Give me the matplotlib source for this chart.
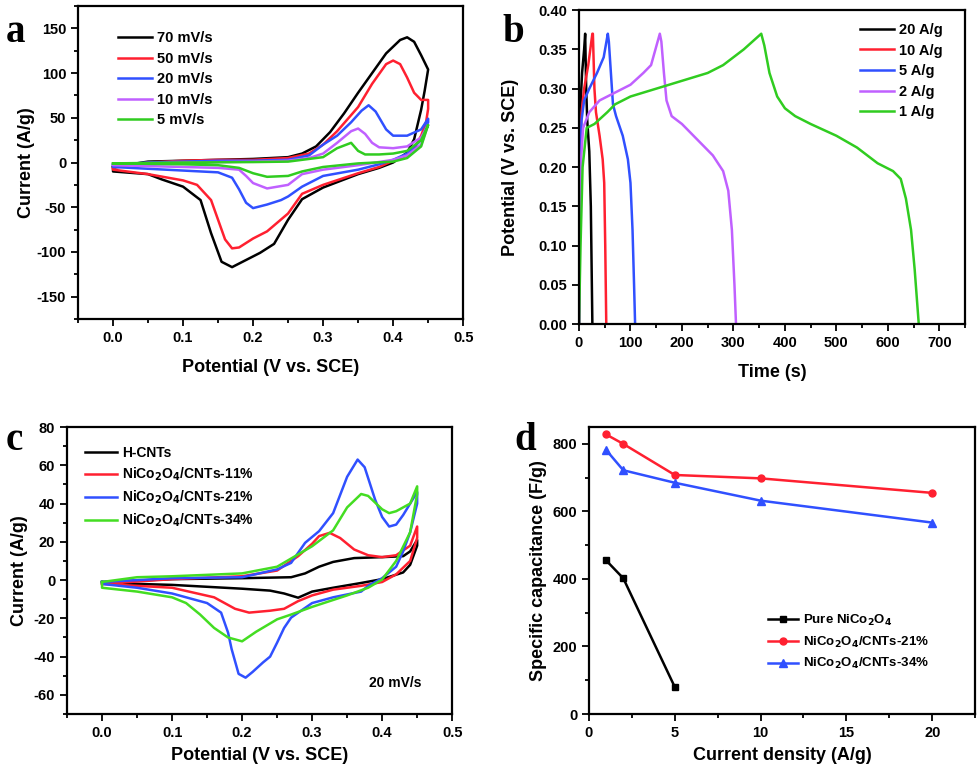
"""
    Figure : CV, GCD et capacité spécifique NiCo2O4 / CNTs
"""

import matplotlib
matplotlib.use("Agg")
import matplotlib.pyplot as plt
from matplotlib.ticker import MultipleLocator

plt.rcParams['font.family'] = ['Liberation Sans', 'DejaVu Sans']
plt.rcParams['font.weight'] = 'bold'
plt.rcParams['mathtext.default'] = 'bf'
plt.rcParams['axes.unicode_minus'] = False

# ---------------- (a) CV à différentes vitesses de balayage ----------------
cv_rates = ["70 mV/s", "50 mV/s", "20 mV/s", "10 mV/s", "5 mV/s"]
cv70_x = [0, 0.05, 0.1, 0.15, 0.2, 0.25, 0.27, 0.29, 0.31, 0.33, 0.35, 0.37, 0.39, 0.41, 0.42, 0.43, 0.44, 0.45,
          0.445, 0.44, 0.43, 0.42, 0.40, 0.38, 0.35, 0.30, 0.27, 0.25, 0.23, 0.21, 0.19, 0.17, 0.155, 0.14, 0.125,
          0.10, 0.07, 0.05, 0.0, 0]
cv70_y = [-5, 1, 2, 3, 4, 6, 10, 18, 34, 55, 78, 100, 122, 137, 140, 135, 120, 104,
          80, 59, 26, 11, 0, -6, -13, -28, -41, -64, -91, -101, -109, -117, -111, -79, -42,
          -27, -19, -13, -10, -5]
cv50_x = [0, 0.05, 0.1, 0.15, 0.2, 0.25, 0.28, 0.30, 0.32, 0.35, 0.37, 0.39, 0.40, 0.41, 0.42, 0.43, 0.44, 0.45,
          0.45, 0.447, 0.44, 0.43, 0.42, 0.40, 0.38, 0.35, 0.30, 0.27, 0.25, 0.22, 0.20, 0.18, 0.17, 0.16, 0.15,
          0.14, 0.12, 0.10, 0.05, 0.0, 0]
cv50_y = [-6, 0, 2, 3, 3, 5, 10, 20, 35, 62, 88, 110, 114, 110, 95, 78, 70, 70,
          60, 45, 30, 15, 8, 2, -5, -12, -25, -35, -57, -77, -85, -95, -96, -86, -64,
          -42, -25, -20, -13, -8, -6]
cv20_x = [0, 0.05, 0.1, 0.15, 0.2, 0.25, 0.28, 0.30, 0.32, 0.34, 0.355, 0.365, 0.375, 0.39, 0.40, 0.42, 0.44, 0.45,
          0.45, 0.44, 0.42, 0.40, 0.38, 0.35, 0.30, 0.27, 0.25, 0.24, 0.22, 0.20, 0.19, 0.18, 0.17, 0.15, 0.10,
          0.05, 0.0, 0]
cv20_y = [-3, 0, 1, 2, 2, 3, 8, 20, 30, 45, 58, 64, 57, 37, 30, 30, 37, 49,
          45, 25, 10, 3, -2, -8, -15, -27, -38, -42, -47, -51, -45, -30, -17, -11, -9,
          -7, -5, -3]
cv10_x = [0, 0.1, 0.2, 0.25, 0.28, 0.30, 0.32, 0.34, 0.35, 0.36, 0.37, 0.38, 0.40, 0.42, 0.44, 0.45,
          0.44, 0.42, 0.40, 0.35, 0.30, 0.27, 0.25, 0.22, 0.20, 0.19, 0.18, 0.15, 0.10, 0.0, 0]
cv10_y = [-2, 0, 1, 2, 5, 10, 22, 35, 38, 32, 22, 17, 16, 18, 28, 42,
          20, 8, 3, -3, -8, -13, -25, -29, -23, -15, -8, -6, -5, -3, -2]
cv5_x = [0, 0.1, 0.2, 0.25, 0.30, 0.32, 0.34, 0.35, 0.36, 0.38, 0.40, 0.42, 0.44, 0.45,
         0.44, 0.42, 0.40, 0.35, 0.30, 0.27, 0.25, 0.22, 0.20, 0.18, 0.15, 0.10, 0.0, 0]
cv5_y = [-1, 0, 0.5, 1, 6, 16, 22, 13, 9, 9, 10, 13, 25, 42,
         18, 5, 1, -1, -5, -10, -15, -16, -12, -6, -3, -2, -1, -1]

# ---------------- (b) charge / décharge galvanostatique ----------------
gcd_labels = ["20 A/g", "10 A/g", "5 A/g", "2 A/g", "1 A/g"]
gcd20_t = [0, 1, 3, 6, 10, 12, 14, 16, 20, 23, 25, 26]
gcd20_v = [0, 0.20, 0.28, 0.32, 0.35, 0.37, 0.30, 0.26, 0.22, 0.15, 0.05, 0]
gcd10_t = [0, 2, 5, 10, 18, 26, 27, 30, 33, 40, 46, 49, 51, 53]
gcd10_v = [0, 0.22, 0.27, 0.30, 0.33, 0.37, 0.37, 0.30, 0.27, 0.24, 0.21, 0.18, 0.10, 0]
gcd5_t = [0, 2, 5, 10, 20, 35, 48, 56, 58, 62, 66, 72, 85, 95, 100, 104, 107, 109]
gcd5_v = [0, 0.20, 0.26, 0.285, 0.30, 0.32, 0.34, 0.37, 0.36, 0.32, 0.28, 0.265, 0.24, 0.21, 0.18, 0.12, 0.05, 0]
gcd2_t = [0, 3, 8, 20, 40, 70, 100, 125, 140, 157, 160, 165, 170, 180, 200, 230, 260, 280, 290, 297, 302, 305]
gcd2_v = [0, 0.20, 0.25, 0.27, 0.285, 0.295, 0.305, 0.32, 0.33, 0.37, 0.36, 0.32, 0.285, 0.265, 0.255, 0.235,
          0.215, 0.195, 0.17, 0.12, 0.05, 0]
gcd1_t = [0, 3, 7, 15, 30, 55, 70, 100, 150, 200, 250, 280, 300, 320, 354,
          360, 370, 385, 400, 420, 450, 500, 540, 580, 610, 625, 635, 645, 652, 660]
gcd1_v = [0, 0.10, 0.20, 0.25, 0.255, 0.27, 0.28, 0.29, 0.30, 0.31, 0.32, 0.33, 0.34, 0.35, 0.37,
          0.355, 0.32, 0.29, 0.275, 0.265, 0.255, 0.24, 0.225, 0.205, 0.195, 0.185, 0.16, 0.12, 0.07, 0]

# ---------------- (c) CV à 20 mV/s, différentes teneurs ----------------
cvc_labels = ["H-CNTs", "NiCo$_2$O$_4$/CNTs-11%", "NiCo$_2$O$_4$/CNTs-21%", "NiCo$_2$O$_4$/CNTs-34%"]
hcnt_x = [0, 0.1, 0.2, 0.27, 0.29, 0.31, 0.33, 0.36, 0.40, 0.43, 0.44, 0.45,
          0.45, 0.44, 0.43, 0.40, 0.37, 0.33, 0.30, 0.28, 0.26, 0.24, 0.20, 0.10, 0.0, 0]
hcnt_y = [-1, 0.5, 1, 1.5, 3.5, 7, 9.5, 11.5, 12, 12.5, 15, 21,
          18, 8, 4, 0.5, -1.5, -4, -6, -9.2, -7, -5.5, -4.5, -2.5, -1.5, -1]
c11_x = [0, 0.1, 0.2, 0.25, 0.28, 0.30, 0.31, 0.325, 0.34, 0.36, 0.38, 0.40, 0.42, 0.44, 0.45,
         0.45, 0.44, 0.42, 0.40, 0.37, 0.33, 0.30, 0.28, 0.26, 0.24, 0.21, 0.19, 0.16, 0.10, 0.05, 0.0, 0]
c11_y = [-2, 0.5, 2, 5, 12.5, 19, 23, 24.7, 22, 16, 13, 12, 13, 18, 28,
         22, 10, 3, -1, -3, -5, -8, -11, -15, -16, -17, -15, -9, -4, -3, -2, -2]
c21_x = [0, 0.1, 0.2, 0.25, 0.27, 0.29, 0.31, 0.33, 0.35, 0.365, 0.375, 0.39, 0.40, 0.41, 0.42, 0.43, 0.44, 0.45,
         0.45, 0.44, 0.43, 0.42, 0.40, 0.38, 0.37, 0.33, 0.30, 0.27, 0.26, 0.25, 0.24, 0.23, 0.215, 0.205, 0.195,
         0.185, 0.18, 0.17, 0.15, 0.10, 0.05, 0.0, 0]
c21_y = [-1, 1, 1.5, 5.6, 9, 19.5, 25.6, 35, 54, 63, 59, 42, 33, 28, 29, 34, 40, 46,
         40, 25, 15, 7, 1, -3, -6, -9, -12, -19.6, -25, -32.7, -40, -43, -48, -51, -49,
         -36, -27.5, -17, -12, -7, -4, -2, -1]
c34_x = [0, 0.05, 0.1, 0.2, 0.25, 0.30, 0.33, 0.35, 0.37, 0.38, 0.40, 0.41, 0.42, 0.44, 0.45,
         0.45, 0.44, 0.42, 0.40, 0.38, 0.35, 0.30, 0.27, 0.25, 0.22, 0.20, 0.18, 0.16, 0.14, 0.12, 0.10,
         0.05, 0.0, 0]
c34_y = [-1, 1.5, 2, 3.5, 7, 17.7, 26, 38, 45, 44, 37, 35, 36, 40, 49,
         45, 25, 10, 0.3, -4, -8, -14, -18, -20.5, -27, -32, -30, -25, -18, -12, -9,
         -6, -4, -1]

# ---------------- (d) capacité spécifique ----------------
d_labels = ["Pure NiCo$_2$O$_4$", "NiCo$_2$O$_4$/CNTs-21%", "NiCo$_2$O$_4$/CNTs-34%"]
density_pure = [1, 2, 5]
cap_pure = [455, 402, 80]
density = [1, 2, 5, 10, 20]
cap_21 = [828, 800, 708, 698, 655]
cap_34 = [782, 722, 685, 632, 567]

colors5 = ["black", "#ff2030", "#3050ff", "#c060ff", "#30cc20"]
colors4 = ["black", "#ff2030", "#3050ff", "#44dd22"]


def style_axes(ax):
    for s in ax.spines.values():
        s.set_linewidth(1.6)
    ax.tick_params(which='both', direction='out', top=False, right=False, labelsize=10.5, width=1.3)
    ax.tick_params(which='major', length=5)
    ax.tick_params(which='minor', length=3)
    for lab in ax.get_xticklabels() + ax.get_yticklabels():
        lab.set_fontweight('bold')


fig = plt.figure(figsize=(9.8, 7.7), dpi=100)
ax_a = fig.add_axes([0.0796, 0.5857, 0.393, 0.4065])
ax_b = fig.add_axes([0.5908, 0.579, 0.394, 0.4078])
ax_c = fig.add_axes([0.0684, 0.0727, 0.393, 0.3727])
ax_d = fig.add_axes([0.601, 0.0727, 0.394, 0.3727])

# (a)
for xs, ys, lab, col in zip([cv70_x, cv50_x, cv20_x, cv10_x, cv5_x], [cv70_y, cv50_y, cv20_y, cv10_y, cv5_y],
                            cv_rates, colors5):
    ax_a.plot(xs, ys, color=col, lw=1.8, label=lab)
ax_a.set_xlim(-0.05, 0.5)
ax_a.set_ylim(-175, 175)
ax_a.xaxis.set_major_locator(MultipleLocator(0.1))
ax_a.xaxis.set_minor_locator(MultipleLocator(0.05))
ax_a.yaxis.set_major_locator(MultipleLocator(50))
ax_a.yaxis.set_minor_locator(MultipleLocator(25))
ax_a.set_xlabel("Potential (V vs. SCE)", fontsize=13, fontweight='bold', labelpad=10)
ax_a.set_ylabel("Current (A/g)", fontsize=13, fontweight='bold', labelpad=1)
ax_a.legend(loc='upper left', bbox_to_anchor=(0.104, 0.92), frameon=False, fontsize=10.5, borderpad=0,
            borderaxespad=0, handlelength=2.3, handletextpad=0.35, labelspacing=0.45)
style_axes(ax_a)

# (b)
for ts, vs, lab, col in zip([gcd20_t, gcd10_t, gcd5_t, gcd2_t, gcd1_t], [gcd20_v, gcd10_v, gcd5_v, gcd2_v, gcd1_v],
                            gcd_labels, colors5):
    ax_b.plot(ts, vs, color=col, lw=1.8, label=lab)
ax_b.set_xlim(0, 750)
ax_b.set_ylim(0, 0.40)
ax_b.xaxis.set_major_locator(MultipleLocator(100))
ax_b.xaxis.set_minor_locator(MultipleLocator(50))
ax_b.yaxis.set_major_locator(MultipleLocator(0.05))
ax_b.yaxis.set_major_formatter(plt.FormatStrFormatter('%.2f'))
ax_b.set_xlabel("Time (s)", fontsize=13, fontweight='bold', labelpad=10)
ax_b.set_ylabel("Potential (V vs. SCE)", fontsize=13, fontweight='bold', labelpad=14)
ax_b.legend(loc='upper left', bbox_to_anchor=(0.728, 0.959), frameon=False, fontsize=10.5, borderpad=0,
            borderaxespad=0, handlelength=2.3, handletextpad=0.35, labelspacing=0.45)
style_axes(ax_b)

# (c)
for xs, ys, lab, col in zip([hcnt_x, c11_x, c21_x, c34_x], [hcnt_y, c11_y, c21_y, c34_y], cvc_labels, colors4):
    ax_c.plot(xs, ys, color=col, lw=1.8, label=lab)
ax_c.set_xlim(-0.05, 0.5)
ax_c.set_ylim(-70, 80)
ax_c.xaxis.set_major_locator(MultipleLocator(0.1))
ax_c.xaxis.set_minor_locator(MultipleLocator(0.05))
ax_c.yaxis.set_major_locator(MultipleLocator(20))
ax_c.yaxis.set_minor_locator(MultipleLocator(10))
ax_c.set_xlabel("Potential (V vs. SCE)", fontsize=13, fontweight='bold', labelpad=5)
ax_c.set_ylabel("Current (A/g)", fontsize=13, fontweight='bold')
ax_c.text(0.418, -54, "20 mV/s", ha='center', va='center', fontsize=10, fontweight='bold')
ax_c.legend(loc='upper left', bbox_to_anchor=(0.047, 0.934), frameon=False, fontsize=10, borderpad=0,
            borderaxespad=0, handlelength=2.3, handletextpad=0.35, labelspacing=0.4)
style_axes(ax_c)

# (d)
ax_d.plot(density_pure, cap_pure, color='black', lw=1.8, marker='s', ms=5, label=d_labels[0])
ax_d.plot(density, cap_21, color='#ff2030', lw=1.8, marker='o', ms=5, label=d_labels[1])
ax_d.plot(density, cap_34, color='#3050ff', lw=1.8, marker='^', ms=6, label=d_labels[2])
ax_d.set_xlim(0, 22.5)
ax_d.set_ylim(0, 850)
ax_d.xaxis.set_major_locator(MultipleLocator(5))
ax_d.xaxis.set_minor_locator(MultipleLocator(2.5))
ax_d.yaxis.set_major_locator(MultipleLocator(200))
ax_d.yaxis.set_minor_locator(MultipleLocator(100))
ax_d.set_xlabel("Current density (A/g)", fontsize=13, fontweight='bold', labelpad=5)
ax_d.set_ylabel("Specific capacitance (F/g)", fontsize=13, fontweight='bold')
ax_d.legend(loc='upper left', bbox_to_anchor=(0.464, 0.352), frameon=False, fontsize=9.5, borderpad=0,
            borderaxespad=0, handlelength=2.3, handletextpad=0.35, labelspacing=0.5)
style_axes(ax_d)

# lettres des sous-figures
for x, y, s in [(0.006, 0.958, 'a'), (0.513, 0.958, 'b'), (0.006, 0.428, 'c'), (0.525, 0.428, 'd')]:
    fig.text(x, y, s, fontsize=28, fontweight='bold', family='Liberation Serif', va='center')

fig.savefig("out.png", dpi=100)
